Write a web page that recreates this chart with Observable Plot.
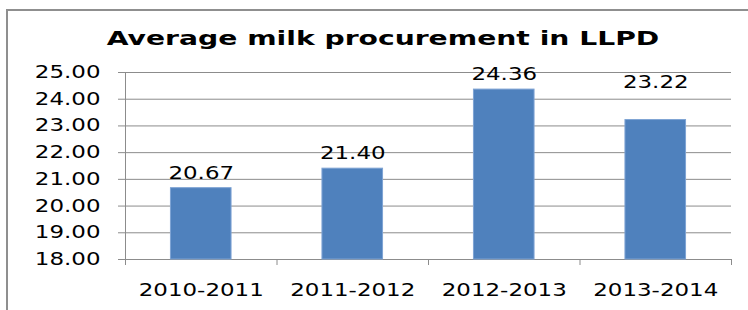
<!DOCTYPE html>
<html>
<head>
<meta charset="utf-8">
<script src="https://cdn.jsdelivr.net/npm/d3@7"></script>
<script src="https://cdn.jsdelivr.net/npm/@observablehq/plot@0.6"></script>
<style>
  html, body { margin: 0; padding: 0; background: #fff; }
  body { width: 748px; height: 310px; overflow: hidden; position: relative; font-family: "DejaVu Sans", Verdana, sans-serif; }
  #chart { position: absolute; left: 0; top: 0; }
  #title { position: absolute; left: 0; top: 28px; width: 766px; text-align: center; font-size: 20px; line-height: 1; font-weight: bold; color: #000; white-space: nowrap; transform: scaleX(1.41); transform-origin: 383px 0; }
  #frame { position: absolute; left: 6px; top: 9px; width: 800px; height: 400px; border: 2px solid #8f8f8f; pointer-events: none; }
</style>
</head>
<body>
<div id="chart"></div>
<div id="title">Average milk procurement in LLPD</div>
<div id="frame"></div>
<script>
const categories = ["2010-2011", "2011-2012", "2012-2013", "2013-2014"];
const values = [20.67, 21.40, 24.36, 23.22];
const yTicks = [18, 19, 20, 21, 22, 23, 24, 25];
const yMin = 18, yMax = 25;

const table = categories.map((c, i) => ({i, category: c, value: values[i]}));
const boundaries = d3.range(categories.length + 1);
const centers = categories.map((c, i) => i + 0.5);
const barInset = 0.3;
const gray = "#8c8c8c";
const fmt = d3.format(".2f");
// In the reference, the last data label was dragged higher than the others.
const raisedLabel = "2013-2014";

const plot = Plot.plot({
  width: 748,
  height: 310,
  marginLeft: 125,
  marginRight: 17,
  marginTop: 72,
  marginBottom: 51,
  style: {fontFamily: "DejaVu Sans, Verdana, sans-serif", fontSize: "17px", background: "transparent", color: "#000"},
  x: {domain: [0, categories.length]},
  y: {domain: [yMin, yMax]},
  marks: [
    Plot.gridY({ticks: yTicks, stroke: gray, strokeOpacity: 1}),
    Plot.ruleX([0], {y1: yMin, y2: yMax, stroke: gray}),
    Plot.axisY({ticks: yTicks, tickSize: 7, tickPadding: 18, tickFormat: fmt, stroke: gray, strokeOpacity: 1, fill: "#000", label: null}),
    Plot.axisX({ticks: boundaries, tickSize: 6, tickFormat: () => "", stroke: gray, strokeOpacity: 1, label: null}),
    Plot.axisX({ticks: centers, tickSize: 0, tickPadding: 24, tickFormat: t => categories[Math.floor(t)], fill: "#000", label: null}),
    Plot.rectY(table, {x1: d => d.i + barInset, x2: d => d.i + 1 - barInset, y1: yMin, y2: "value", fill: "#4f81bd", stroke: "#7ea3d3", strokeWidth: 1}),
    Plot.text(table, {filter: d => d.category !== raisedLabel, x: d => d.i + 0.5, y: "value", text: d => fmt(d.value), dy: -15, fill: "#000"}),
    Plot.text(table, {filter: d => d.category === raisedLabel, x: d => d.i + 0.5, y: "value", text: d => fmt(d.value), dy: -37, fill: "#000"})
  ]
});

// Reference text glyphs are horizontally stretched; scale each label about its anchor.
const sx = 1.35;
plot.querySelectorAll("text").forEach(t => {
  const ax = +t.getAttribute("x") || 0;
  const tr = t.getAttribute("transform") || "";
  t.setAttribute("transform", `${tr} translate(${ax},0) scale(${sx},1) translate(${-ax},0)`);
});

document.getElementById("chart").appendChild(plot);
</script>
</body>
</html>
